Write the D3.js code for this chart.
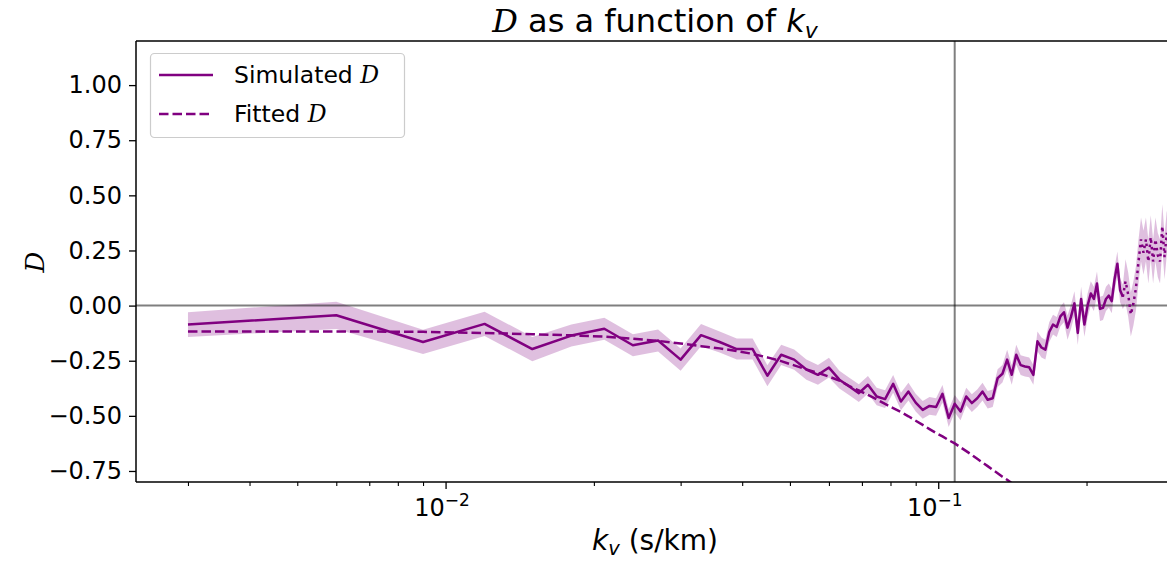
<!DOCTYPE html>
<html><head><meta charset="utf-8">
<script src="https://cdn.jsdelivr.net/npm/d3@7"></script>
<style>
body{margin:0;background:#fff}
svg{display:block}
text{font-family:"DejaVu Sans",sans-serif;fill:#000}
.cal{font-family:"DejaVu Serif",serif;font-style:italic}
</style>
</head><body>
<svg id="chart" width="1167" height="561"></svg>
<script>
// ---------------- data ----------------
const kValues = [0.003,0.006,0.009,0.012,0.015,0.018,0.021,0.024,0.027,0.030,
  0.033,0.036,0.039,0.042,0.045,0.048,0.051,0.054,0.057,0.060,
  0.063,0.066,0.069,0.072,0.075,0.078,0.081,0.084,0.087,0.090,
  0.093,0.096,0.099,0.102,0.105,0.108,0.111,0.114,0.117,0.120,
  0.123,0.126,0.129,0.132,0.135,0.138,0.141,0.144,0.147,0.150,
  0.153,0.156,0.159,0.162,0.165,0.168,0.171,0.174,0.177,0.180,
  0.183,0.186,0.189,0.192,0.195,0.198,0.201,0.204,0.207,0.210,
  0.213,0.216,0.219,0.222,0.225,0.228,0.231,0.234,0.237,0.240,
  0.243,0.246,0.249,0.252,0.255,0.258,0.261,0.264,0.267,0.270,
  0.273,0.276,0.279,0.282,0.285,0.288,0.291,0.294,0.297,0.300];

const simulatedD = [-0.086,-0.044,-0.165,-0.083,-0.197,-0.136,-0.105,-0.180,-0.158,-0.245,
  -0.134,-0.165,-0.197,-0.197,-0.318,-0.223,-0.245,-0.290,-0.314,-0.281,
  -0.336,-0.367,-0.397,-0.359,-0.412,-0.424,-0.355,-0.435,-0.390,-0.440,
  -0.473,-0.455,-0.460,-0.400,-0.510,-0.445,-0.480,-0.412,-0.442,-0.420,
  -0.390,-0.427,-0.420,-0.329,-0.309,-0.245,-0.314,-0.223,-0.270,-0.276,
  -0.280,-0.314,-0.162,-0.190,-0.200,-0.120,-0.086,-0.097,-0.049,-0.030,
  -0.100,-0.050,0.010,-0.124,0.030,-0.086,0.000,0.055,0.030,0.100,
  -0.015,-0.010,0.030,0.045,0.020,0.120,0.190,0.070,0.040,0.110,
  0.050,-0.040,0.010,0.080,0.200,0.300,0.240,0.300,0.200,0.310,
  0.200,0.300,0.230,0.200,0.360,0.220,0.330,0.260,0.350,0.240];

const simulatedErr = [0.056,0.062,0.055,0.055,0.055,0.050,0.050,0.050,0.050,0.050,
  0.050,0.048,0.048,0.048,0.048,0.046,0.046,0.046,0.045,0.045,
  0.040,0.040,0.040,0.040,0.040,0.040,0.040,0.040,0.040,0.040,
  0.040,0.040,0.040,0.040,0.040,0.040,0.040,0.040,0.040,0.040,
  0.040,0.040,0.040,0.040,0.040,0.045,0.045,0.045,0.045,0.045,
  0.045,0.045,0.045,0.045,0.045,0.045,0.045,0.045,0.045,0.045,
  0.055,0.055,0.055,0.055,0.055,0.055,0.055,0.055,0.055,0.055,
  0.055,0.055,0.055,0.055,0.055,0.055,0.055,0.055,0.055,0.100,
  0.100,0.100,0.100,0.100,0.100,0.100,0.100,0.100,0.100,0.100,
  0.100,0.100,0.100,0.100,0.100,0.100,0.100,0.100,0.100,0.100];

// number of leading points drawn solid; the rest are dotted
const solidCount = 79;

const fittedD = [-0.117,-0.117,-0.119,-0.124,-0.130,-0.135,-0.141,-0.150,-0.160,-0.172,
  -0.184,-0.194,-0.206,-0.219,-0.235,-0.252,-0.271,-0.289,-0.305,-0.322,
  -0.340,-0.365,-0.385,-0.405,-0.425,-0.446,-0.465,-0.483,-0.502,-0.522,
  -0.541,-0.560,-0.578,-0.593,-0.610,-0.625,-0.643,-0.660,-0.677,-0.695,
  -0.712,-0.728,-0.745,-0.760,-0.776,-0.790,-0.805,-0.820];

const kCut = 0.108;           // vertical reference line
const yTicks = [-0.75,-0.5,-0.25,0,0.25,0.5,0.75,1.0];
const xMajorTicks = [0.01, 0.1];
const xMajorLabels = ["−2", "−1"];
const xMinorTicks = [0.003,0.004,0.005,0.006,0.007,0.008,0.009,0.02,0.03,0.04,0.05,0.06,0.07,0.08,0.09,0.2,0.3];
const legendLabels = ["Simulated ", "Fitted "];

// ---------------- layout ----------------
const svg = d3.select("#chart");
const L = 136, R = 1174, T = 41, B = 482;
const purple = "#800080";

const x = d3.scaleLog().domain([0.002353, 0.301]).range([L, R]);
const y = d3.scaleLinear().domain([-0.8, 1.2]).range([B, T]);

svg.append("defs").append("clipPath").attr("id","clip")
  .append("rect").attr("x",L).attr("y",T).attr("width",R-L).attr("height",B-T);

const plot = svg.append("g").attr("clip-path","url(#clip)");

const pts = kValues.map((k,i)=>({k, v: simulatedD[i], e: simulatedErr[i]}));

// error band
plot.append("path").datum(pts)
  .attr("d", d3.area().x(d=>x(d.k)).y0(d=>y(d.v-d.e)).y1(d=>y(d.v+d.e)))
  .attr("fill", purple).attr("fill-opacity", 0.25).attr("stroke","none");

// reference lines
plot.append("line").attr("x1",L).attr("x2",R).attr("y1",y(0)).attr("y2",y(0))
  .attr("stroke","#000").attr("stroke-opacity",0.5).attr("stroke-width",2);
plot.append("line").attr("x1",x(kCut)).attr("x2",x(kCut)).attr("y1",T).attr("y2",B)
  .attr("stroke","#000").attr("stroke-opacity",0.5).attr("stroke-width",2);

const line = d3.line().x(d=>x(d.k)).y(d=>y(d.v));

// fitted (dashed)
const fitPts = fittedD.map((v,i)=>({k:kValues[i], v}));
plot.append("path").datum(fitPts).attr("d", line)
  .attr("fill","none").attr("stroke",purple).attr("stroke-width",2.5)
  .attr("stroke-dasharray","9.5,4");

// simulated solid
plot.append("path").datum(pts.slice(0, solidCount)).attr("d", line)
  .attr("fill","none").attr("stroke",purple).attr("stroke-width",2.5)
  .attr("stroke-linejoin","round");
// simulated dotted
plot.append("path").datum(pts.slice(solidCount-1)).attr("d", line)
  .attr("fill","none").attr("stroke",purple).attr("stroke-width",2.5)
  .attr("stroke-dasharray","2.5,4");

// ---------------- axes ----------------
const yAxis = svg.append("g").attr("transform",`translate(${L},0)`)
  .call(d3.axisLeft(y).tickValues(yTicks).tickFormat(d3.format(".2f")).tickSize(7).tickPadding(7));
yAxis.select(".domain").remove();
yAxis.selectAll("line").attr("stroke","#000").attr("stroke-width",1.3);
yAxis.selectAll("text").style("font-size","24px").attr("fill","#000");

const xAxisMinor = svg.append("g").attr("transform",`translate(0,${B})`)
  .call(d3.axisBottom(x).tickValues(xMinorTicks).tickFormat("").tickSize(4));
xAxisMinor.select(".domain").remove();
xAxisMinor.selectAll("line").attr("stroke","#000").attr("stroke-width",1.1);

const xAxisMajor = svg.append("g").attr("transform",`translate(0,${B})`)
  .call(d3.axisBottom(x).tickValues(xMajorTicks).tickFormat("").tickSize(7));
xAxisMajor.select(".domain").remove();
xAxisMajor.selectAll("line").attr("stroke","#000").attr("stroke-width",1.3);
xAxisMajor.selectAll(".tick").each(function(d,i){
  const t = d3.select(this).append("text").attr("x",-4).attr("y",34).attr("text-anchor","middle")
    .style("font-size","24px");
  t.append("tspan").text("10");
  t.append("tspan").attr("dy",-10).style("font-size","17px").text(xMajorLabels[i]);
});

// spines
svg.append("line").attr("x1",L).attr("x2",L).attr("y1",T).attr("y2",B).attr("stroke","#000").attr("stroke-width",1.5);
svg.append("line").attr("x1",L).attr("x2",R).attr("y1",T).attr("y2",T).attr("stroke","#000").attr("stroke-width",1.5);
svg.append("line").attr("x1",L).attr("x2",R).attr("y1",B).attr("y2",B).attr("stroke","#000").attr("stroke-width",1.5);
svg.append("line").attr("x1",R).attr("x2",R).attr("y1",T).attr("y2",B).attr("stroke","#000").attr("stroke-width",1.5);

// ---------------- texts ----------------
const title = svg.append("text").attr("x",655).attr("y",32).attr("text-anchor","middle").style("font-size","32px");
title.append("tspan").attr("class","cal").text("D");
title.append("tspan").text(" as a function of ");
title.append("tspan").style("font-style","italic").text("k");
title.append("tspan").style("font-style","italic").style("font-size","22px").attr("dy",6).text("v");

const xl = svg.append("text").attr("x",655).attr("y",550).attr("text-anchor","middle").style("font-size","28px");
xl.append("tspan").style("font-style","italic").text("k");
xl.append("tspan").style("font-style","italic").style("font-size","19.5px").attr("dy",5).text("v");
xl.append("tspan").attr("dy",-5).text(" (s/km)");

svg.append("text").attr("class","cal").attr("transform","translate(44,262) rotate(-90)")
  .attr("text-anchor","middle").style("font-size","26px").text("D");

// legend
const lg = svg.append("g");
lg.append("rect").attr("x",150.5).attr("y",53.5).attr("width",254).attr("height",84).attr("rx",4)
  .attr("fill","#fff").attr("fill-opacity",0.8).attr("stroke","#ccc").attr("stroke-width",1.2);
const legendRows = [{dash:null, yy:75},{dash:"9.5,4", yy:114}];
legendRows.forEach((r,i)=>{
  const ln = lg.append("line").attr("x1",159).attr("x2",213).attr("y1",r.yy).attr("y2",r.yy)
    .attr("stroke",purple).attr("stroke-width",2.5);
  if (r.dash) ln.attr("stroke-dasharray", r.dash);
  const t = lg.append("text").attr("x",234).attr("y",r.yy+8).style("font-size","23.5px");
  t.append("tspan").text(legendLabels[i]);
  t.append("tspan").attr("class","cal").text("D");
});
</script>
</body></html>
